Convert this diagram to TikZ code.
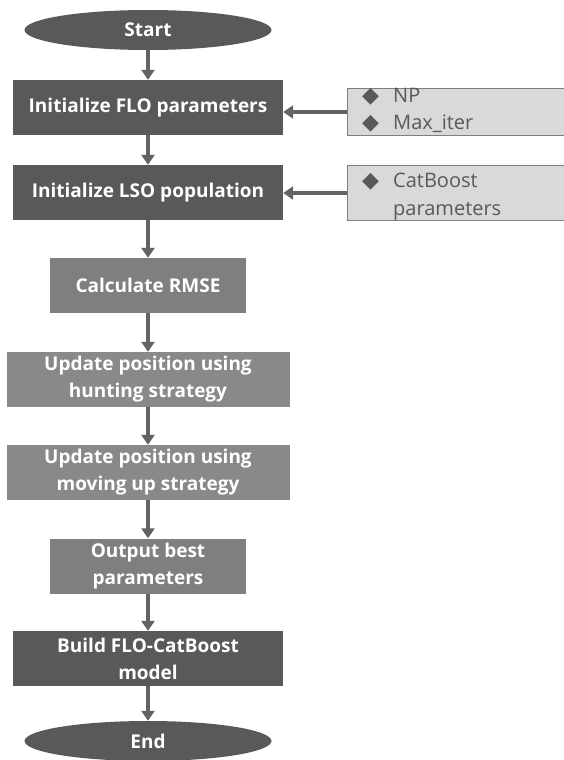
\documentclass[tikz,border=0pt]{standalone}
\usepackage{fontspec}
\setmainfont{Open Sans}
\newfontfamily\symfont{DejaVu Sans}
\usetikzlibrary{arrows.meta,shapes.geometric}
\definecolor{darkbox}{HTML}{595959}
\definecolor{midbox}{HTML}{7F7F7F}
\definecolor{litebox}{HTML}{898989}
\definecolor{sidefill}{HTML}{D9D9D9}
\definecolor{sideline}{HTML}{7F7F7F}
\definecolor{arrowc}{HTML}{636363}
\newcommand{\dia}{\makebox[31pt][l]{\symfont\fontsize{22}{20}\selectfont ◆}}
\begin{document}
\begin{tikzpicture}[x=1pt,y=-1pt,
  every node/.style={font=\fontsize{19}{27}\selectfont\bfseries},
  termnode/.style={ellipse, fill=darkbox, text=white, minimum width=247pt, minimum height=40pt, inner sep=0pt},
  procbox/.style={rectangle, text=white, align=center, inner sep=0pt, minimum height=55pt},
  sidebox/.style={rectangle, fill=sidefill, draw=sideline, line width=1pt, anchor=north west, inner sep=0pt, minimum width=217pt},
  sidetext/.style={anchor=north west, text=darkbox, align=left, font=\fontsize{20}{27.5}\selectfont, inner sep=0pt},
  flow/.style={draw=arrowc, line width=4pt, -{Triangle[width=13pt,length=10pt]}}
]
\useasboundingbox (0,0) rectangle (564,760);
\node[termnode] (start) at (148,30) {Start};
\node[procbox, fill=darkbox, minimum width=270pt] (b1) at (148,107.5) {Initialize FLO parameters};
\node[procbox, fill=darkbox, minimum width=270pt] (b2) at (148,192.5) {Initialize LSO population};
\node[procbox, fill=midbox, minimum width=196pt] (b3) at (148,285.5) {Calculate RMSE};
\node[procbox, fill=litebox, minimum width=283pt] (b4) at (148,379.5) {Update position using\\hunting strategy};
\node[procbox, fill=litebox, minimum width=283pt] (b5) at (148,472.5) {Update position using\\moving up strategy};
\node[procbox, fill=midbox, minimum width=196pt] (b6) at (148,566) {Output best\\parameters};
\node[procbox, fill=darkbox, minimum width=270pt] (b7) at (148,658.5) {Build FLO-CatBoost\\model};
\node[termnode] (end) at (148,741) {End};

\node[sidebox, minimum height=47pt] (s1) at (347,88) {};
\node[sidetext] (s1t) at (362,88) {\dia NP\\\dia Max\_iter};
\node[sidebox, minimum height=55pt] (s2) at (347,165) {};
\node[sidetext] (s2t) at (362,173) {\dia CatBoost\\\makebox[31pt][l]{}parameters};

\draw[flow] (start) -- (b1);
\draw[flow] (b1) -- (b2);
\draw[flow] (b2) -- (b3);
\draw[flow] (b3) -- (b4);
\draw[flow] (b4) -- (b5);
\draw[flow] (b5) -- (b6);
\draw[flow] (b6) -- (b7);
\draw[flow] (b7) -- (end);
\draw[flow] (s1.west) -- (b1.east |- s1.west);
\draw[flow] (s2.west) -- (b2.east |- s2.west);
\end{tikzpicture}
\end{document}
